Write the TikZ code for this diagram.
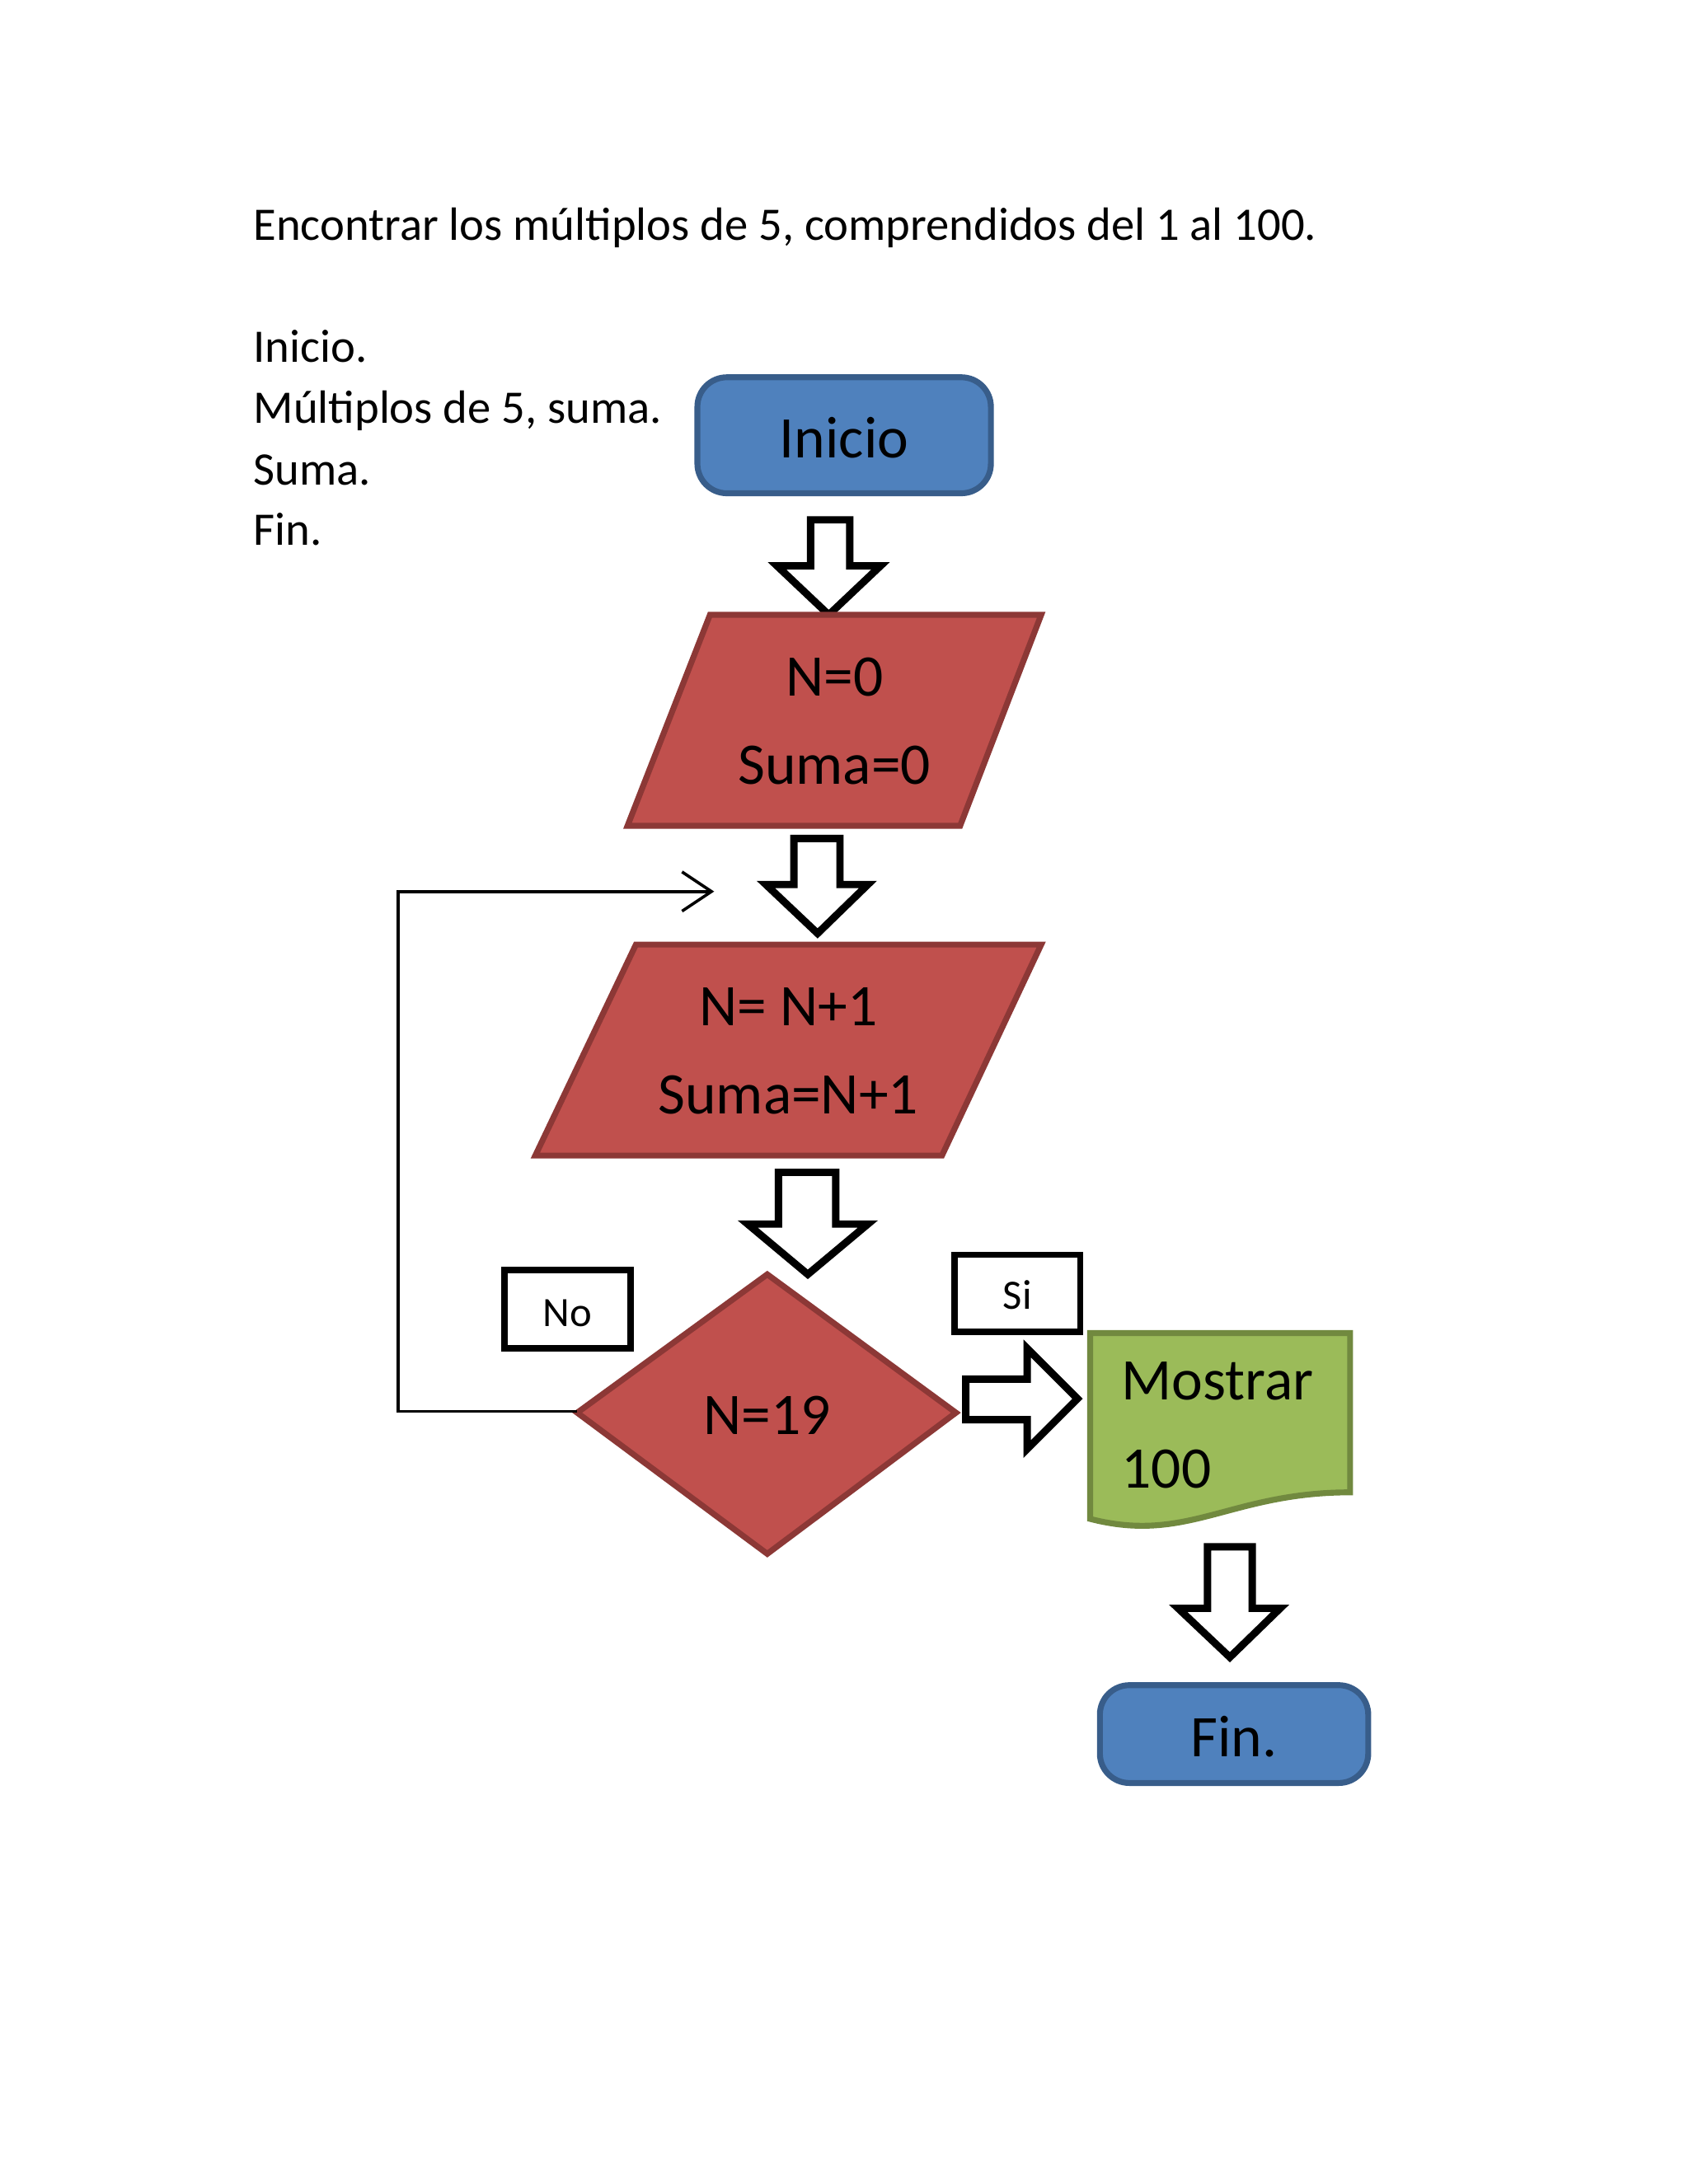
\documentclass[tikz,border=0pt]{standalone}
\usepackage{fontspec}
\setmainfont{Carlito}
\usetikzlibrary{shapes.geometric,arrows.meta}
\definecolor{blu}{HTML}{4F81BD}\definecolor{blub}{HTML}{385D8A}
\definecolor{red}{HTML}{C0504D}\definecolor{redb}{HTML}{8C3836}
\definecolor{grn}{HTML}{9BBB59}\definecolor{grnb}{HTML}{71893F}
\begin{document}
\begin{tikzpicture}[x=0.01cm,y=-0.01cm,
  term/.style={draw=blub,fill=blu,line width=1.2pt,rounded corners=6pt},
  proc/.style={draw=redb,fill=red,line width=1.2pt},
  barrow/.style={draw=black,fill=white,line width=1.5pt,line join=miter},
  lbl/.style={draw=black,line width=1.3pt,fill=white},
  txt/.style={font=\fontsize{12}{14}\selectfont,align=center}]
\useasboundingbox[fill=white] (0,0) rectangle (1208,1563);
\node[anchor=base west,font=\fontsize{9.5}{11}\selectfont] (title) at (169,172) {Encontrar los múltiplos de 5, comprendidos del 1 al 100.};
\node[anchor=base west,font=\fontsize{9.5}{11}\selectfont] (l1) at (169,259) {Inicio.};
\node[anchor=base west,font=\fontsize{9.5}{11}\selectfont] (l2) at (169,303) {Múltiplos de 5, suma.};
\node[anchor=base west,font=\fontsize{9.5}{11}\selectfont] (l3) at (169,347) {Suma.};
\node[anchor=base west,font=\fontsize{9.5}{11}\selectfont] (l4) at (169,390) {Fin.};
% Inicio
\draw[term] (499,270) rectangle (709,353);
\node[txt] (ini) at (604,313) {Inicio};
% arrow 1
\draw[barrow] (580,372)--(608,372)--(608,405)--(630,405)--(593,440)--(556,405)--(580,405)--cycle;
% para 1
\draw[proc] (508,440)--(745,440)--(687,591)--(449,591)--cycle;
\node[txt] (p1) at (597,516) {N=0\\[4pt]Suma=0};
% arrow 2
\draw[barrow] (568,600)--(601,600)--(601,633)--(621,633)--(585,668)--(548,633)--(568,633)--cycle;
% para 2
\draw[proc] (455,676)--(745,676)--(674,827)--(383,827)--cycle;
\node[txt] (p2) at (564,752) {N= N+1\\[4pt]Suma=N+1};
% arrow 3
\draw[barrow] (557,839)--(598,839)--(598,876)--(621,876)--(578,912)--(535,876)--(557,876)--cycle;
% diamond
\draw[proc] (549,912)--(684,1011)--(549,1112)--(413,1011)--cycle;
\coordinate (dl) at (413,1010);
\node[txt] (d) at (549,1013) {N=19};
% labels
\draw[lbl] (361,909) rectangle (451,965);
\node[font=\fontsize{8.5}{10}\selectfont] (no) at (406,940) {No};
\draw[lbl] (683,898) rectangle (773,953);
\node[font=\fontsize{8.5}{10}\selectfont] (si) at (728,927) {Si};
% right arrow
\draw[barrow] (691,987)--(735,987)--(735,965)--(771,1001)--(735,1037)--(735,1016)--(691,1016)--cycle;
% document
\draw[draw=grnb,fill=grn,line width=1.2pt] (780,954)--(966,954)--(966,1068) .. controls (880,1068) and (850,1105) .. (780,1087)--cycle;
\node[txt,align=left,anchor=north west] (doc) at (790,962) {Mostrar\\[4pt]100};
% arrow 4
\draw[barrow] (864,1107)--(896,1107)--(896,1151)--(916,1151)--(880,1186)--(843,1151)--(864,1151)--cycle;
% Fin
\draw[term] (787,1206) rectangle (979,1276);
\node[txt] (fin) at (883,1243) {Fin.};
% loop
\coordinate (lt) at (511,638);
\draw[line width=0.6pt,-{Straight Barb[length=6pt,width=8pt]}] (dl) -- (285,1010) -- (285,638) -- (lt);
\end{tikzpicture}
\end{document}
